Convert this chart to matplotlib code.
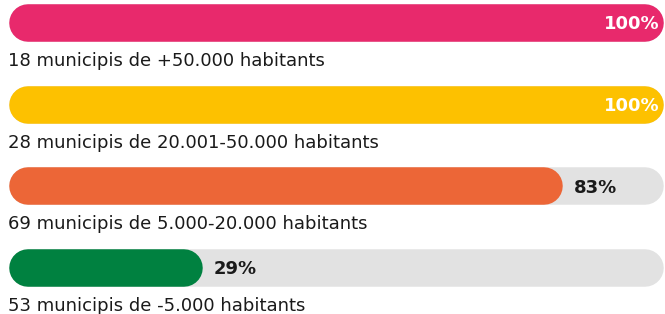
import matplotlib
matplotlib.use("Agg")
import matplotlib.pyplot as plt

categories = [
    "18 municipis de +50.000 habitants",
    "28 municipis de 20.001-50.000 habitants",
    "69 municipis de 5.000-20.000 habitants",
    "53 municipis de -5.000 habitants",
]
values = [100, 100, 83, 29]
colors = ["#E8296C", "#FDC100", "#EC6637", "#008140"]
track_color = "#E2E2E2"

plt.rcParams['font.family'] = ['DejaVu Sans']

W, H = 665, 314
DPI = 100
fig = plt.figure(figsize=(W / DPI, H / DPI), dpi=DPI)
left_px, right_px = 9, 664
ax = fig.add_axes([left_px / W, 0, (right_px - left_px) / W, 1])
row_px = 81.6
first_center = 23.2
xmax = 98.25
ax.set_xlim(0, xmax)
ax.set_ylim((H - first_center) / row_px, -first_center / row_px)
ax.axis("off")

xunit = (right_px - left_px) / xmax
bar_px = 37.5
lw = bar_px * 72 / DPI
r = (bar_px / 2) / xunit

for i, (cat, v, c) in enumerate(zip(categories, values, colors)):
    ax.plot([r, xmax - r], [i, i], color=track_color, lw=lw,
             solid_capstyle="round", zorder=1)
    end = min(v, xmax)
    ax.plot([r, end - r], [i, i], color=c, lw=lw,
            solid_capstyle="round", zorder=2)
    if v >= xmax:
        ax.text(end - 4 / xunit, i + 0.015, f"{v}%", ha="right", va="center",
                color="white", fontsize=13, fontweight="bold", zorder=3)
    else:
        ax.text(end + 11.5 / xunit, i + 0.015, f"{v}%", ha="left", va="center",
                color="#1a1a1a", fontsize=13, fontweight="bold", zorder=3)
    ax.text(-1 / xunit, i + 42.8 / row_px, cat, ha="left", va="baseline",
            color="#1a1a1a", fontsize=13)

fig.savefig("out.png", dpi=DPI)
